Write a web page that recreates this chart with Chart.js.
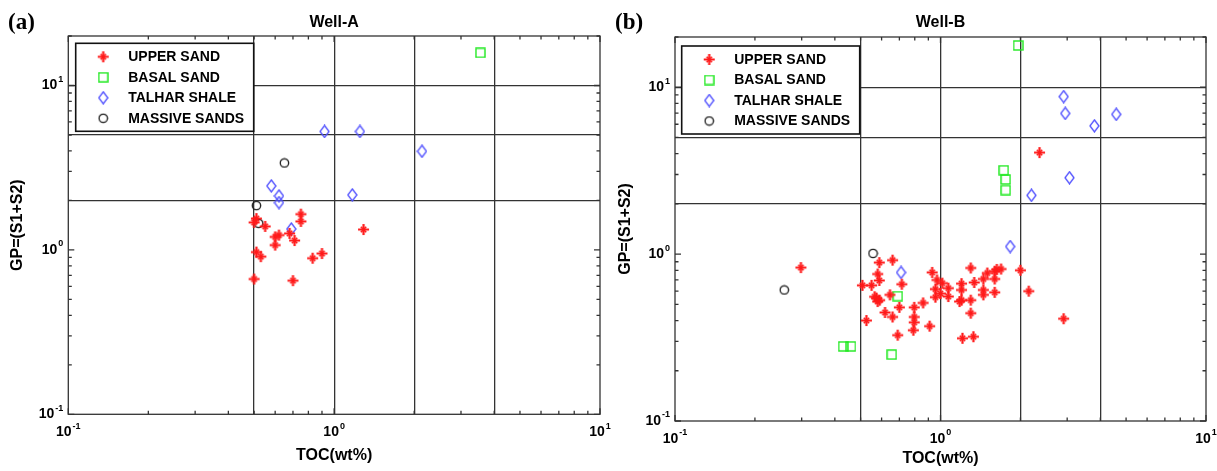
<!DOCTYPE html>
<html>
<head>
<meta charset="utf-8">
<script src="https://cdn.jsdelivr.net/npm/chart.js@4.4.1/dist/chart.umd.min.js"></script>
<style>
  body { margin: 0; background: #fff; }
  #wrap { position: relative; width: 1217px; height: 471px; overflow: hidden; }
  canvas { position: absolute; top: 0; }
  #chartA { left: 0; }
  #chartB { left: 608px; }
</style>
</head>
<body>
<div id="wrap">
  <canvas id="chartA" width="630" height="471"></canvas>
  <canvas id="chartB" width="609" height="471"></canvas>
</div>
<script>
// ---- data (TOC wt%, GP = S1+S2) ----
const seriesNames = ['UPPER SAND', 'BASAL SAND', 'TALHAR SHALE', 'MASSIVE SANDS'];

const wellA_upperToc = [0.75, 0.75, 0.50, 0.51, 0.55, 0.62, 0.60, 0.68, 0.71, 0.60, 0.51, 0.53, 0.83, 0.90, 0.50, 0.70, 1.29];
const wellA_upperGp  = [1.65, 1.49, 1.47, 1.55, 1.39, 1.23, 1.20, 1.26, 1.14, 1.07, 0.97, 0.91, 0.89, 0.95, 0.665, 0.65, 1.33];
const wellA_basalToc = [3.55];
const wellA_basalGp  = [15.8];
const wellA_shaleToc = [0.92, 1.25, 2.14, 0.58, 0.62, 0.62, 1.17, 0.69];
const wellA_shaleGp  = [5.25, 5.25, 3.98, 2.45, 2.13, 1.94, 2.16, 1.34];
const wellA_massiveToc = [0.65, 0.51, 0.52];
const wellA_massiveGp  = [3.38, 1.86, 1.45];

const wellB_upperToc = [2.36, 0.298, 0.508, 0.55, 0.588, 0.66, 0.58, 0.588, 0.715, 0.645, 0.574, 0.59, 0.565, 0.58,
  0.70, 0.618, 0.66, 0.69, 0.526, 0.796, 0.796, 0.796, 0.79, 0.86, 0.93, 0.91, 0.957, 0.957, 0.97, 1.015, 1.07,
  1.07, 1.0, 1.2, 1.2, 1.2, 1.18, 1.3, 1.34, 1.3, 1.3, 1.21, 1.33, 1.45, 1.45, 1.45, 1.5, 1.6, 1.6, 1.6, 1.63,
  1.69, 2.0, 2.15, 2.91];
const wellB_upperGp  = [4.06, 0.83, 0.65, 0.65, 0.89, 0.92, 0.76, 0.695, 0.66, 0.57, 0.545, 0.53, 0.555, 0.52,
  0.48, 0.447, 0.42, 0.327, 0.40, 0.48, 0.42, 0.39, 0.35, 0.51, 0.777, 0.37, 0.617, 0.552, 0.70, 0.67, 0.625,
  0.557, 0.58, 0.665, 0.61, 0.53, 0.52, 0.826, 0.676, 0.53, 0.443, 0.313, 0.32, 0.71, 0.61, 0.57, 0.77, 0.71, 0.79, 0.59, 0.81,
  0.814, 0.80, 0.60, 0.41];
const wellB_basalToc = [1.96, 1.73, 1.76, 1.76, 0.69, 0.43, 0.46, 0.655];
const wellB_basalGp  = [17.8, 3.18, 2.8, 2.42, 0.56, 0.28, 0.28, 0.25];
const wellB_shaleToc = [2.91, 2.95, 4.59, 3.8, 3.06, 2.2, 1.83, 0.71];
const wellB_shaleGp  = [8.79, 6.97, 6.88, 5.87, 2.87, 2.25, 1.11, 0.776];
const wellB_massiveToc = [0.557, 0.258];
const wellB_massiveGp  = [1.01, 0.61];

// axis ranges, labelled decades and the classification lines
const tocRange = [0.1, 10];
const gpRange = [0.1, 20];
const decadeTicks = [0.1, 1, 10];
const tocLines = [0.5, 1, 2, 4];
const gpLines = [2, 5, 10];

const FONT = '"Liberation Sans", Arial, sans-serif';

// ---- marker images (MATLAB-ish) ----
function makeStar(color) {
  const c = document.createElement('canvas');
  c.width = 13; c.height = 13;
  const g = c.getContext('2d');
  g.strokeStyle = color;
  g.lineWidth = 2.2;
  g.beginPath();
  g.moveTo(6.5, 1); g.lineTo(6.5, 12);
  g.moveTo(1, 6.5); g.lineTo(12, 6.5);
  g.stroke();
  g.lineWidth = 1.6;
  g.beginPath();
  g.moveTo(3.8, 3.8); g.lineTo(9.2, 9.2);
  g.moveTo(9.2, 3.8); g.lineTo(3.8, 9.2);
  g.stroke();
  return c;
}
function makeSquare(color) {
  const c = document.createElement('canvas');
  c.width = 11; c.height = 11;
  const g = c.getContext('2d');
  g.strokeStyle = color;
  g.lineWidth = 1.4;
  g.strokeRect(1, 1, 9, 9);
  return c;
}
function makeDiamond(color) {
  const c = document.createElement('canvas');
  c.width = 11; c.height = 14;
  const g = c.getContext('2d');
  g.strokeStyle = color;
  g.lineWidth = 1.3;
  g.beginPath();
  g.moveTo(5.5, 1); g.lineTo(10, 7); g.lineTo(5.5, 13); g.lineTo(1, 7); g.closePath();
  g.stroke();
  return c;
}
function makeCircle(color) {
  const c = document.createElement('canvas');
  c.width = 11; c.height = 11;
  const g = c.getContext('2d');
  g.strokeStyle = color;
  g.lineWidth = 1.3;
  g.beginPath();
  g.arc(5.5, 5.5, 4.2, 0, Math.PI * 2);
  g.stroke();
  return c;
}
const markers = [makeStar('#ff1a1a'), makeSquare('#1ee81e'), makeDiamond('#5050ff'), makeCircle('#1a1a1a')];

function pairs(xs, ys) {
  return xs.map((x, i) => ({ x: x, y: ys[i] }));
}

function drawPow(ctx, v, x, y, align) {
  const exp = String(Math.round(Math.log10(v)));
  const base = 'bold 14px ' + FONT;
  const sup = 'bold 9px ' + FONT;
  ctx.font = base;
  const bw = ctx.measureText('10').width;
  ctx.font = sup;
  const ew = ctx.measureText(exp).width;
  const total = bw + 1 + ew;
  const x0 = align === 'right' ? x - total : x - total / 2;
  ctx.textAlign = 'left';
  ctx.textBaseline = 'middle';
  ctx.fillStyle = '#000';
  ctx.font = base;
  ctx.fillText('10', x0, y);
  ctx.font = sup;
  ctx.fillText(exp, x0 + bw + 1, y - 6);
}

// box, inward ticks, decade labels, titles and legend
const matlabFrame = {
  id: 'matlabFrame',
  afterDraw(chart, args, opts) {
    const ctx = chart.ctx;
    const a = chart.chartArea;
    const xs = chart.scales.x;
    const ys = chart.scales.y;
    ctx.save();
    ctx.strokeStyle = '#333';
    ctx.lineWidth = 1.3;

    // inward ticks on all four sides
    ctx.beginPath();
    for (let d = 0.1; d <= 10; d *= 10) {
      for (let m = 1; m <= 9; m++) {
        const v = +(d * m).toPrecision(3);
        const len = m === 1 ? 6 : 3.5;
        if (v >= tocRange[0] && v <= tocRange[1]) {
          const px = xs.getPixelForValue(v);
          ctx.moveTo(px, a.bottom); ctx.lineTo(px, a.bottom - len);
          ctx.moveTo(px, a.top); ctx.lineTo(px, a.top + len);
        }
        if (v >= gpRange[0] && v <= gpRange[1]) {
          const py = ys.getPixelForValue(v);
          ctx.moveTo(a.left, py); ctx.lineTo(a.left + len, py);
          ctx.moveTo(a.right, py); ctx.lineTo(a.right - len, py);
        }
      }
    }
    ctx.stroke();
    ctx.strokeRect(a.left, a.top, a.right - a.left, a.bottom - a.top);

    // decade labels
    decadeTicks.forEach(v => {
      drawPow(ctx, v, xs.getPixelForValue(v), a.bottom + 18, 'center');
      drawPow(ctx, v, a.left - 5, ys.getPixelForValue(v), 'right');
    });

    // panel title
    ctx.fillStyle = '#000';
    ctx.font = 'bold 16px ' + FONT;
    ctx.textAlign = 'center';
    ctx.textBaseline = 'middle';
    ctx.fillText(opts.title, (a.left + a.right) / 2, 23);
    ctx.font = 'bold 23px "Liberation Serif", "Times New Roman", serif';
    ctx.textAlign = 'left';
    ctx.fillText(opts.tag, opts.tagX, 23);

    // legend box
    const lx = a.left + opts.legendDx;
    const ly = a.top + opts.legendDy;
    ctx.fillStyle = '#fff';
    ctx.fillRect(lx, ly, 178, 88);
    ctx.strokeStyle = '#111';
    ctx.lineWidth = 1.6;
    ctx.strokeRect(lx, ly, 178, 88);
    ctx.font = 'bold 14px ' + FONT;
    ctx.fillStyle = '#000';
    ctx.textBaseline = 'middle';
    chart.data.datasets.forEach((ds, i) => {
      const rowY = ly + 13.5 + i * 20.5;
      const img = ds.pointStyle;
      ctx.drawImage(img, lx + 27.5 - img.width / 2, rowY - img.height / 2);
      ctx.fillText(ds.label, lx + 52.5, rowY + 0.5);
    });
    ctx.restore();
  }
};

function makePanel(id, sets, cfg) {
  const datasets = sets.map((s, i) => ({
    label: seriesNames[i],
    data: pairs(s[0], s[1]),
    pointStyle: markers[i],
    pointRadius: 5,
    showLine: false
  }));
  return new Chart(document.getElementById(id), {
    type: 'scatter',
    data: { datasets: datasets },
    options: {
      responsive: false,
      animation: false,
      layout: { padding: { left: 0, top: cfg.top, right: cfg.right, bottom: 0 } },
      plugins: {
        legend: { display: false },
        tooltip: { enabled: false },
        matlabFrame: cfg
      },
      scales: {
        x: {
          type: 'logarithmic',
          min: tocRange[0],
          max: tocRange[1],
          afterBuildTicks: s => { s.ticks = tocLines.map(v => ({ value: v })); },
          afterFit: s => { s.height = cfg.xHeight; },
          ticks: { display: false },
          border: { display: false },
          grid: { color: '#333', lineWidth: 1.3, drawTicks: false },
          title: {
            display: true, text: 'TOC(wt%)', color: '#000',
            font: { family: FONT, size: 16, weight: 'bold' },
            padding: { top: 0, bottom: cfg.xTitlePad }
          }
        },
        y: {
          type: 'logarithmic',
          min: gpRange[0],
          max: gpRange[1],
          afterBuildTicks: s => { s.ticks = gpLines.map(v => ({ value: v })); },
          afterFit: s => { s.width = cfg.yWidth; },
          ticks: { display: false },
          border: { display: false },
          grid: { color: '#333', lineWidth: 1.3, drawTicks: false },
          title: {
            display: true, text: 'GP=(S1+S2)', color: '#000',
            font: { family: FONT, size: 16, weight: 'bold' },
            padding: { top: 8, bottom: 0 }
          }
        }
      }
    },
    plugins: [matlabFrame]
  });
}

document.addEventListener('DOMContentLoaded', function() {
  // canvas A is a bit wider than its panel so the right-hand "10^1" label is not clipped
  makePanel('chartA', [
    [wellA_upperToc, wellA_upperGp],
    [wellA_basalToc, wellA_basalGp],
    [wellA_shaleToc, wellA_shaleGp],
    [wellA_massiveToc, wellA_massiveGp]
  ], { title: 'Well-A', tag: '(a)', tagX: 8, top: 36, right: 30, xHeight: 56.7, yWidth: 68.3,
       xTitlePad: 5.4, legendDx: 7.4, legendDy: 7.3 });

  makePanel('chartB', [
    [wellB_upperToc, wellB_upperGp],
    [wellB_basalToc, wellB_basalGp],
    [wellB_shaleToc, wellB_shaleGp],
    [wellB_massiveToc, wellB_massiveGp]
  ], { title: 'Well-B', tag: '(b)', tagX: 7, top: 37, right: 11, xHeight: 50, yWidth: 67,
       xTitlePad: 2.4, legendDx: 6.7, legendDy: 9 });
});
</script>
</body>
</html>
